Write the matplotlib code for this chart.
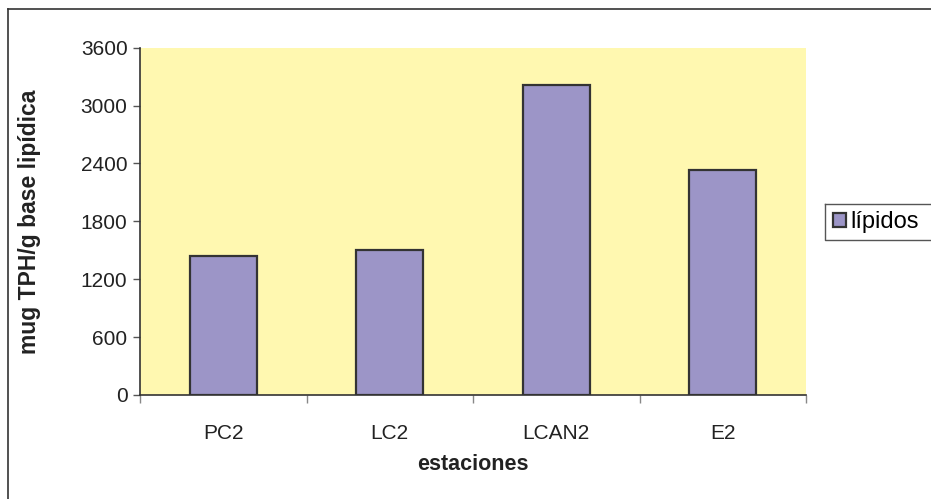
import matplotlib
matplotlib.use("Agg")
import matplotlib.pyplot as plt
from matplotlib.lines import Line2D
from matplotlib.patches import Patch
import numpy as np

plt.rcParams['font.family'] = ['Liberation Sans', 'DejaVu Sans']

categories = ["PC2", "LC2", "LCAN2", "E2"]
lipidos = [1441, 1503, 3213, 2332]
yticks = [0, 600, 1200, 1800, 2400, 3000, 3600]

W, H = 931, 499
fig = plt.figure(figsize=(W / 100, H / 100), dpi=100)
fig.patch.set_facecolor("white")

# plot area in pixels
left, right, top, bottom = 140, 806, 47.7, 395
ax = fig.add_axes([left / W, 1 - bottom / H, (right - left) / W, (bottom - top) / H])
ax.set_facecolor("#FFF8B0")

x = np.arange(len(categories))
ax.bar(x, lipidos, width=0.4, color="#9C95C7", edgecolor="#333333", linewidth=1.6,
       zorder=3)

ax.set_xlim(-0.5, len(categories) - 0.5)
ax.set_ylim(0, 3600)
ax.set_yticks(yticks)
ax.set_yticklabels([str(v) for v in yticks], fontsize=15, color="#222222")
ax.set_xticks(x)
ax.set_xticklabels(categories, fontsize=15, color="#222222")
ax.tick_params(axis="x", length=0, pad=21)
ax.tick_params(axis="y", length=5, width=1, color="#555555", pad=4)
ax.set_xticks(np.arange(-0.5, len(categories)), minor=True)
ax.tick_params(axis="x", which="minor", length=6, width=1, color="#888888")

for s in ("top", "right"):
    ax.spines[s].set_visible(False)
for s in ("left", "bottom"):
    ax.spines[s].set_color("#333333")
    ax.spines[s].set_linewidth(1.2)

ax.set_xlabel("estaciones", fontsize=15.5, fontweight="bold", color="#222222")
ax.xaxis.set_label_coords(0.5, (bottom - 465) / (bottom - top), transform=ax.transAxes)
ax.xaxis.label.set_va("center")
ax.set_ylabel("mug TPH/g base lipídica", fontsize=16.5, fontweight="bold",
              color="#222222")
ax.yaxis.set_label_coords((30 - left) / (right - left), 0.5, transform=ax.transAxes)
ax.yaxis.label.set_va("center")

# outer chart frame
fig.add_artist(Line2D([8 / W, 8 / W], [0, 1 - 9 / H], color="#333333", lw=1.2,
                      transform=fig.transFigure))
fig.add_artist(Line2D([8 / W, 1], [1 - 9 / H, 1 - 9 / H], color="#333333", lw=1.2,
                      transform=fig.transFigure))

# legend box
lx0, ly0, ly1 = 825, 204, 240
fig.add_artist(Line2D([lx0 / W, lx0 / W, 1], [1 - ly0 / H, 1 - ly1 / H, 1 - ly1 / H],
                      color="#555555", lw=1.0, transform=fig.transFigure))
fig.add_artist(Line2D([lx0 / W, 1], [1 - ly0 / H, 1 - ly0 / H],
                      color="#555555", lw=1.0, transform=fig.transFigure))
leg = fig.legend(handles=[Patch(facecolor="#9C95C7", edgecolor="#333333", linewidth=1.6)],
                 labels=["lípidos"], loc="center left",
                 bbox_to_anchor=(833 / W, 1 - 222 / H), frameon=False, fontsize=17,
                 handlelength=0.55, handleheight=0.55, handletextpad=0.2,
                 borderpad=0, borderaxespad=0)

fig.savefig("out.png", dpi=100)
